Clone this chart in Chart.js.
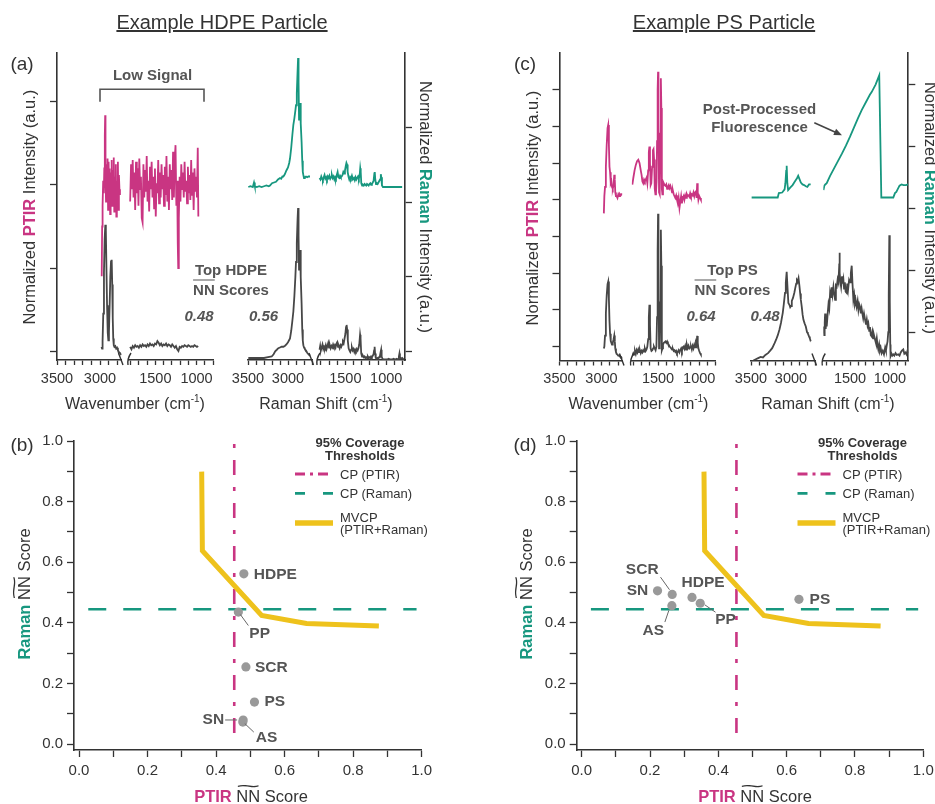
<!DOCTYPE html>
<html>
<head>
<meta charset="utf-8">
<script src="https://cdn.jsdelivr.net/npm/chart.js"></script>
<style>
  body { margin: 0; background: #fff; width: 935px; height: 804px; overflow: hidden; position: relative;
         font-family: "Liberation Sans", Arial, sans-serif; color: #333; }
  canvas { position: absolute; }
  svg { position: absolute; left: 0; top: 0; }
  .t { position: absolute; white-space: nowrap; line-height: 1; transform: translate(-50%, -50%); }
  .t.l { transform: translate(0, -50%); }
  .t.rotL { transform: translate(-50%, -50%) rotate(-90deg); }
  .t.rotR { transform: translate(-50%, -50%) rotate(90deg); }
  .ptir { color: #c93582; font-weight: bold; }
  .raman { color: #17977f; font-weight: bold; }
  .ann { font-weight: bold; color: #555; font-size: 15px; }
  .nn { position: relative; display: inline-block; }
  .nn::before { content: "~"; position: absolute; left: 50%; top: -0.6em; font-weight: normal; font-size: 1.1em;
                transform: translateX(-50%) scaleX(2.3); }
  .ov { text-decoration: overline; }
  sup { font-size: 10px; position: relative; top: -2px; vertical-align: top; }
</style>
</head>
<body>
<script>
// ---------- (a) HDPE particle spectra: [wavenumber, normalized intensity] ----------
const hdpePtirHiParticle = [[2980,0.90],[2975,1.50],[2970,1.75],[2963,2.05],[2956,1.90],[2950,2.20],[2944,2.60],[2940,2.84],[2936,2.10],[2930,1.80],[2924,2.25],[2918,1.95],[2912,2.32],[2906,1.70],[2900,2.28],[2894,1.85],[2888,2.20],[2882,1.65],[2876,2.15],[2870,1.90],[2864,2.30],[2858,1.75],[2852,2.18],[2846,1.95],[2840,2.33],[2834,1.68],[2828,2.10],[2822,1.80],[2816,2.25],[2810,1.62],[2804,2.05],[2798,1.85],[2792,2.28],[2786,1.70],[2780,2.12],[2774,1.95],[2768,1.88]];
const hdpePtirHiLibrary = [[2982,0.05],[2976,0.03],[2970,0.12],[2962,0.45],[2954,0.95],[2946,1.35],[2938,1.52],[2932,1.45],[2926,1.05],[2918,0.55],[2910,0.22],[2903,0.13],[2896,0.22],[2888,0.55],[2880,0.90],[2872,1.08],[2864,1.10],[2858,0.80],[2852,0.40],[2846,0.15],[2840,0.07],[2832,0.05],[2822,0.06],[2812,0.03],[2802,0.04],[2792,0.01],[2782,-0.01],[2772,-0.02],[2762,-0.03],[2752,-0.05]];
const hdpePtirLoParticle = [[1806,1.80],[1795,2.25],[1785,1.95],[1775,2.30],[1765,1.85],[1755,2.15],[1745,1.70],[1735,2.28],[1725,1.90],[1715,2.20],[1705,1.75],[1695,2.32],[1685,1.95],[1675,2.10],[1665,1.60],[1655,1.55],[1645,2.25],[1635,1.85],[1625,2.18],[1615,1.92],[1605,2.35],[1595,1.80],[1585,2.05],[1575,1.68],[1565,2.22],[1555,1.95],[1545,2.28],[1535,1.85],[1525,2.10],[1515,1.72],[1505,2.20],[1495,1.62],[1485,2.02],[1475,1.90],[1465,2.30],[1455,1.78],[1445,2.15],[1435,1.85],[1425,2.25],[1415,1.95],[1405,2.12],[1395,1.75],[1385,2.22],[1375,1.88],[1365,2.35],[1355,1.80],[1345,2.10],[1335,1.70],[1325,2.25],[1315,1.95],[1305,2.18],[1295,1.82],[1285,2.40],[1275,1.85],[1265,2.30],[1255,2.48],[1245,1.75],[1235,2.05],[1228,1.30],[1222,1.00],[1215,1.60],[1205,2.10],[1195,1.80],[1185,2.25],[1175,1.95],[1165,2.15],[1155,1.85],[1145,2.28],[1135,1.92],[1125,2.05],[1115,1.78],[1105,2.22],[1095,1.90],[1085,2.12],[1075,1.82],[1065,2.30],[1055,1.88],[1045,2.15],[1035,1.70],[1025,2.20],[1015,1.92],[1005,2.10],[995,1.85],[985,2.45],[978,1.62]];
const hdpePtirLoLibrary = [[1806,0.05],[1790,0.02],[1775,0.06],[1760,0.04],[1745,0.07],[1730,0.05],[1715,0.06],[1700,0.04],[1685,0.07],[1670,0.05],[1655,0.08],[1640,0.06],[1625,0.07],[1610,0.05],[1595,0.08],[1580,0.06],[1565,0.09],[1550,0.07],[1535,0.08],[1520,0.06],[1505,0.09],[1490,0.08],[1475,0.12],[1460,0.10],[1445,0.07],[1430,0.09],[1415,0.06],[1400,0.08],[1385,0.07],[1370,0.09],[1355,0.06],[1340,0.08],[1325,0.07],[1310,0.05],[1295,0.08],[1280,0.06],[1265,0.04],[1250,0.06],[1235,0.02],[1220,0.00],[1205,0.05],[1190,0.04],[1175,0.06],[1160,0.05],[1145,0.07],[1130,0.06],[1115,0.05],[1100,0.07],[1085,0.06],[1070,0.05],[1055,0.06],[1040,0.05],[1025,0.07],[1010,0.06],[995,0.05],[980,0.06]];
const hdpeRamanHiParticle = [[3496,2.20],[3470,2.21],[3440,2.20],[3425,2.26],[3415,2.21],[3390,2.20],[3360,2.21],[3330,2.20],[3300,2.21],[3270,2.22],[3240,2.21],[3225,2.22],[3200,2.25],[3175,2.26],[3150,2.27],[3125,2.30],[3100,2.32],[3085,2.31],[3070,2.34],[3058,2.34],[3040,2.37],[3020,2.42],[3000,2.46],[2985,2.52],[2975,2.58],[2960,2.72],[2945,2.90],[2933,3.03],[2920,3.12],[2908,3.22],[2900,3.29],[2890,3.45],[2880,3.75],[2874,3.92],[2868,3.60],[2862,3.10],[2856,3.12],[2850,3.32],[2844,3.25],[2838,3.05],[2830,2.80],[2822,2.55],[2815,2.40],[2808,2.36],[2800,2.32],[2790,2.33],[2775,2.34],[2760,2.33],[2745,2.34],[2725,2.34]];
const hdpeRamanHiLibrary = [[3496,-0.08],[3450,-0.08],[3400,-0.08],[3350,-0.08],[3300,-0.08],[3250,-0.07],[3204,-0.06],[3180,-0.03],[3160,0.01],[3140,0.03],[3121,0.05],[3100,0.06],[3080,0.07],[3058,0.07],[3040,0.08],[3020,0.10],[3000,0.13],[2985,0.16],[2975,0.18],[2960,0.28],[2945,0.42],[2933,0.54],[2920,0.75],[2908,1.00],[2900,1.20],[2890,1.45],[2880,1.78],[2874,1.92],[2868,1.55],[2862,1.10],[2856,1.15],[2850,1.36],[2844,1.30],[2838,1.00],[2830,0.65],[2822,0.30],[2815,0.15],[2808,0.09],[2800,0.06],[2790,0.04],[2775,0.02],[2760,-0.01],[2745,-0.03],[2725,-0.05]];
const hdpeRamanLoParticle = [[1816,2.32],[1805,2.30],[1795,2.34],[1785,2.31],[1775,2.29],[1765,2.33],[1755,2.36],[1745,2.31],[1735,2.33],[1725,2.30],[1715,2.34],[1705,2.32],[1695,2.35],[1685,2.31],[1675,2.33],[1665,2.36],[1655,2.32],[1645,2.34],[1635,2.30],[1625,2.33],[1615,2.31],[1605,2.36],[1595,2.40],[1585,2.33],[1575,2.32],[1565,2.35],[1555,2.33],[1545,2.34],[1535,2.36],[1525,2.40],[1515,2.38],[1505,2.42],[1495,2.48],[1487,2.52],[1480,2.50],[1472,2.40],[1462,2.34],[1452,2.30],[1442,2.33],[1432,2.31],[1420,2.35],[1408,2.30],[1395,2.32],[1385,2.29],[1375,2.33],[1365,2.30],[1355,2.32],[1345,2.34],[1335,2.31],[1325,2.36],[1318,2.45],[1312,2.40],[1305,2.25],[1295,2.22],[1285,2.23],[1275,2.22],[1265,2.24],[1255,2.23],[1245,2.22],[1235,2.24],[1225,2.23],[1215,2.22],[1205,2.24],[1195,2.25],[1185,2.23],[1175,2.24],[1165,2.26],[1155,2.28],[1145,2.38],[1140,2.40],[1134,2.30],[1125,2.24],[1115,2.25],[1105,2.24],[1095,2.26],[1085,2.28],[1075,2.30],[1066,2.37],[1060,2.33],[1052,2.22],[1040,2.20],[1020,2.20],[1000,2.20],[980,2.20],[950,2.20],[920,2.20],[890,2.20],[860,2.20],[830,2.20],[805,2.20]];
const hdpeRamanLoLibrary = [[1816,0.03],[1808,0.08],[1800,0.02],[1790,0.06],[1780,0.10],[1770,0.04],[1760,0.07],[1750,0.05],[1740,0.09],[1730,0.04],[1720,0.08],[1710,0.12],[1700,0.06],[1690,0.09],[1680,0.05],[1670,0.08],[1660,0.06],[1650,0.10],[1640,0.07],[1630,0.09],[1620,0.06],[1610,0.11],[1600,0.13],[1590,0.07],[1580,0.08],[1570,0.05],[1560,0.09],[1550,0.07],[1540,0.10],[1530,0.14],[1520,0.12],[1510,0.18],[1500,0.24],[1492,0.33],[1485,0.36],[1478,0.30],[1470,0.15],[1460,0.05],[1450,0.02],[1440,0.00],[1430,0.03],[1420,0.06],[1410,0.02],[1400,0.04],[1390,0.00],[1380,0.03],[1370,0.01],[1360,0.04],[1350,0.02],[1340,0.05],[1330,0.10],[1320,0.23],[1314,0.18],[1306,-0.02],[1296,-0.06],[1285,-0.05],[1275,-0.07],[1265,-0.06],[1255,-0.08],[1245,-0.07],[1235,-0.08],[1225,-0.06],[1215,-0.08],[1205,-0.07],[1195,-0.08],[1185,-0.06],[1175,-0.07],[1165,-0.05],[1155,-0.03],[1148,0.02],[1142,0.07],[1136,-0.02],[1128,-0.08],[1118,-0.09],[1108,-0.08],[1098,-0.09],[1088,-0.07],[1078,-0.06],[1068,0.00],[1062,0.03],[1056,-0.06],[1046,-0.09],[1030,-0.10],[1010,-0.10],[990,-0.10],[970,-0.09],[950,-0.10],[930,-0.10],[910,-0.09],[890,-0.10],[870,-0.09],[855,-0.10],[845,-0.06],[838,-0.02],[832,-0.07],[820,-0.09],[805,-0.08],[795,-0.09]];

// ---------- (c) PS particle spectra ----------
const psPtirHiParticle = [[2972,3.63],[2966,4.10],[2958,4.35],[2948,4.90],[2938,5.50],[2928,5.95],[2920,6.04],[2912,5.50],[2905,4.90],[2898,4.75],[2890,4.45],[2882,4.50],[2875,4.35],[2866,4.30],[2856,4.40],[2848,4.68],[2842,4.55],[2836,4.20],[2828,4.10],[2820,4.10],[2810,4.05],[2800,4.15],[2790,4.10],[2780,4.15],[2770,4.12],[2760,4.15],[2752,4.15]];
const psPtirHiLibrary = [[2972,-0.05],[2966,0.00],[2958,0.30],[2948,0.90],[2938,1.40],[2928,1.70],[2920,1.77],[2912,1.30],[2905,0.70],[2898,0.35],[2890,0.15],[2882,0.10],[2875,0.05],[2866,0.10],[2856,0.20],[2848,0.30],[2842,0.15],[2836,-0.05],[2828,-0.15],[2820,-0.20],[2810,-0.22],[2800,-0.25],[2790,-0.24],[2780,-0.27],[2770,-0.28],[2760,-0.30],[2752,-0.33]];
const psPtirLoParticle = [[1812,4.41],[1800,4.60],[1785,4.80],[1770,4.95],[1755,5.05],[1740,5.09],[1725,5.00],[1710,4.80],[1700,4.68],[1690,4.50],[1680,4.45],[1670,4.55],[1660,4.50],[1650,4.55],[1640,4.60],[1630,4.45],[1620,4.80],[1612,5.30],[1605,5.45],[1598,5.00],[1590,4.40],[1582,4.45],[1572,4.90],[1562,5.35],[1555,5.38],[1548,5.10],[1540,4.30],[1532,4.15],[1525,4.20],[1518,4.50],[1512,5.60],[1505,7.00],[1500,7.49],[1495,6.20],[1488,4.20],[1480,4.15],[1472,5.80],[1466,7.31],[1460,6.50],[1454,4.30],[1447,4.15],[1440,4.50],[1430,4.45],[1420,4.40],[1410,4.38],[1400,4.42],[1390,4.30],[1380,4.35],[1370,4.40],[1360,4.32],[1350,4.38],[1340,4.30],[1330,4.20],[1320,4.25],[1310,4.15],[1300,4.10],[1290,4.05],[1280,4.12],[1270,4.00],[1260,3.90],[1250,4.05],[1240,3.78],[1230,3.95],[1220,4.10],[1210,3.90],[1200,4.05],[1190,4.10],[1180,4.00],[1170,4.12],[1160,4.05],[1150,4.15],[1140,4.10],[1130,4.12],[1120,4.08],[1110,4.18],[1100,4.10],[1090,4.15],[1080,4.12],[1070,4.20],[1060,4.10],[1050,4.20],[1040,4.25],[1032,4.05],[1025,4.45],[1018,4.20],[1010,4.00],[1000,4.10],[990,4.05],[980,4.00]];
const psPtirLoLibrary = [[1812,-0.25],[1800,-0.18],[1790,-0.22],[1780,-0.12],[1770,-0.20],[1760,-0.10],[1750,-0.16],[1740,-0.08],[1730,-0.15],[1720,-0.10],[1710,-0.18],[1700,-0.12],[1690,-0.16],[1680,-0.10],[1670,-0.14],[1660,-0.05],[1650,-0.12],[1640,-0.08],[1630,0.00],[1620,0.20],[1612,0.80],[1605,1.14],[1598,0.60],[1590,-0.05],[1580,-0.12],[1570,-0.10],[1560,-0.05],[1550,0.00],[1540,-0.05],[1530,-0.10],[1520,0.00],[1512,0.80],[1505,2.60],[1500,3.62],[1495,2.40],[1488,-0.05],[1480,-0.02],[1472,1.20],[1466,3.18],[1460,2.20],[1454,-0.10],[1447,-0.05],[1440,0.05],[1430,0.10],[1420,0.12],[1410,0.14],[1400,0.10],[1390,0.14],[1380,0.08],[1370,0.05],[1360,0.00],[1350,-0.02],[1340,-0.05],[1330,-0.08],[1320,-0.06],[1310,-0.12],[1300,-0.10],[1290,-0.15],[1280,-0.12],[1270,-0.18],[1260,-0.14],[1250,-0.10],[1240,-0.16],[1230,-0.10],[1220,-0.05],[1210,-0.12],[1200,-0.02],[1190,0.00],[1180,-0.06],[1170,0.02],[1160,-0.08],[1150,0.05],[1140,-0.04],[1130,0.02],[1120,-0.05],[1110,-0.02],[1100,0.00],[1090,-0.08],[1080,0.02],[1070,-0.05],[1060,0.05],[1050,-0.02],[1040,0.10],[1032,0.05],[1025,0.29],[1018,0.10],[1010,-0.05],[1000,-0.12],[990,-0.18],[980,-0.22]];
const psRamanHiParticle = [[3492,2.17],[3166,2.17],[3152,2.24],[3110,2.25],[3080,2.30],[3070,2.40],[3060,2.60],[3054,2.68],[3046,2.40],[3036,2.29],[3010,2.33],[2980,2.37],[2950,2.43],[2925,2.48],[2910,2.52],[2895,2.47],[2877,2.41],[2856,2.38],[2836,2.37],[2815,2.35],[2796,2.34],[2775,2.38],[2754,2.38]];
const psRamanHiLibrary = [[3492,-0.47],[3470,-0.46],[3440,-0.44],[3410,-0.42],[3380,-0.40],[3350,-0.41],[3320,-0.37],[3287,-0.34],[3260,-0.30],[3235,-0.26],[3205,-0.18],[3185,-0.12],[3165,-0.05],[3144,0.04],[3125,0.15],[3103,0.31],[3090,0.45],[3075,0.63],[3065,0.80],[3054,0.97],[3045,0.75],[3033,0.47],[3020,0.44],[3010,0.40],[3000,0.42],[2990,0.50],[2975,0.55],[2959,0.63],[2945,0.72],[2935,0.78],[2926,0.84],[2916,0.82],[2906,0.87],[2895,0.75],[2885,0.62],[2877,0.52],[2865,0.40],[2855,0.28],[2845,0.20],[2830,0.14],[2815,0.09],[2800,0.00],[2790,-0.02],[2775,-0.07],[2765,-0.10],[2754,-0.15]];
const psRamanLoParticle = [[1833,2.29],[1822,2.36],[1810,2.38],[1792,2.40],[1750,2.52],[1700,2.64],[1650,2.76],[1600,2.88],[1550,3.01],[1500,3.15],[1450,3.30],[1400,3.45],[1354,3.58],[1300,3.71],[1250,3.83],[1229,3.87],[1180,3.99],[1134,4.14],[1108,2.17],[958,2.17],[937,2.24],[920,2.26],[904,2.30],[880,2.36],[854,2.38],[830,2.37],[800,2.37],[772,2.38]];
const psRamanLoLibrary = [[1833,0.09],[1825,-0.05],[1818,0.15],[1812,0.30],[1805,0.05],[1798,0.20],[1792,0.09],[1780,0.30],[1770,0.45],[1760,0.38],[1750,0.63],[1740,0.55],[1730,0.72],[1720,0.60],[1708,0.73],[1698,0.62],[1687,0.52],[1677,0.75],[1667,0.73],[1655,0.85],[1645,0.80],[1638,1.00],[1633,1.28],[1627,0.95],[1620,0.80],[1612,0.73],[1600,0.90],[1590,0.78],[1583,0.84],[1575,0.70],[1565,0.80],[1555,0.65],[1542,0.63],[1535,0.78],[1525,0.68],[1512,0.84],[1500,0.80],[1490,0.95],[1479,1.07],[1470,0.80],[1458,0.52],[1448,0.60],[1438,0.45],[1428,0.50],[1417,0.41],[1405,0.50],[1395,0.36],[1385,0.45],[1375,0.41],[1365,0.30],[1355,0.38],[1346,0.30],[1335,0.22],[1325,0.30],[1312,0.20],[1300,0.12],[1290,0.20],[1280,0.10],[1271,0.14],[1260,0.02],[1250,0.08],[1240,-0.05],[1229,-0.07],[1220,0.00],[1210,-0.10],[1200,-0.05],[1187,-0.12],[1175,-0.18],[1165,-0.10],[1155,-0.22],[1146,-0.28],[1135,-0.20],[1125,-0.30],[1115,-0.26],[1104,-0.34],[1090,-0.30],[1075,-0.36],[1060,-0.25],[1050,-0.30],[1042,-0.23],[1030,-0.15],[1021,0.00],[1015,0.60],[1008,1.56],[1002,0.50],[996,-0.20],[992,-0.39],[980,-0.35],[970,-0.38],[958,-0.36],[945,-0.38],[930,-0.34],[915,-0.37],[896,-0.36],[880,-0.38],[865,-0.33],[850,-0.30],[833,-0.28],[820,-0.35],[805,-0.33],[792,-0.36],[780,-0.30],[772,-0.34]];

// ---------- axis ticks ----------
const highWnTicks = [3500, 3400, 3300, 3200, 3100, 3000, 2900, 2800, 2700];
const lowWnTicks = [1800, 1700, 1600, 1500, 1400, 1300, 1200, 1100, 1000, 900, 800];
const scoreTicks = [0, 0.1, 0.2, 0.3, 0.4, 0.5, 0.6, 0.7, 0.8, 0.9, 1.0];

// ---------- (b)/(d) NN scores ----------
const candidates = ['HDPE', 'PP', 'SCR', 'PS', 'SN', 'AS'];
const hdpePtirScore  = [0.481, 0.465, 0.487, 0.512, 0.479, 0.478];
const hdpeRamanScore = [0.562, 0.436, 0.255, 0.139, 0.080, 0.073];
const psPtirScore    = [0.323, 0.347, 0.265, 0.636, 0.222, 0.264];
const psRamanScore   = [0.484, 0.465, 0.494, 0.478, 0.506, 0.457];
const mvcpPtir  = [0.358, 0.360, 0.533, 0.664, 0.875];
const mvcpRaman = [0.899, 0.638, 0.425, 0.398, 0.390];
const cpPtir = 0.453, cpPtirSpan = [0.99, 0.0];
const cpRaman = 0.445, cpRamanSpan = [0.027, 0.985];

// ---------- styling ----------
const PTIR_C = '#c93582', RAMAN_C = '#17977f', LIB_C = '#474747', MVCP_C = '#eec21c', AXIS_C = '#333';
const FONT = '"Liberation Sans", Arial, sans-serif';
Chart.defaults.font.family = FONT;
Chart.defaults.color = '#333';
Chart.defaults.animation = false;
Chart.defaults.plugins.legend.display = false;
Chart.defaults.plugins.tooltip.enabled = false;

const breakMarks = {
  id: 'breakMarks',
  afterDraw(chart, args, o) {
    const { ctx, chartArea: a } = chart;
    ctx.save();
    ctx.strokeStyle = AXIS_C; ctx.lineWidth = 1.4;
    if (o.right) { ctx.beginPath(); ctx.moveTo(a.right - 3, a.bottom - 7); ctx.lineTo(a.right + 1.5, a.bottom + 5); ctx.stroke(); }
    if (o.left)  { ctx.beginPath(); ctx.moveTo(a.left + 2, a.bottom - 7); ctx.quadraticCurveTo(a.left - 2, a.bottom - 1, a.left - 1, a.bottom + 5); ctx.stroke(); }
    ctx.restore();
  }
};

const pointNames = {
  id: 'pointNames',
  afterDatasetsDraw(chart, args, o) {
    const meta = chart.getDatasetMeta(0);
    const ctx = chart.ctx;
    ctx.save();
    ctx.font = 'bold 15.5px ' + FONT;
    ctx.fillStyle = '#555'; ctx.strokeStyle = '#666'; ctx.lineWidth = 1;
    ctx.textBaseline = 'middle';
    o.names.forEach((name, i) => {
      const p = meta.data[i], s = o.place[name];
      ctx.textAlign = s.align || 'left';
      ctx.fillText(name, p.x + s.dx, p.y + s.dy);
      if (s.lead) {
        ctx.beginPath();
        ctx.moveTo(p.x + s.lead[0], p.y + s.lead[1]);
        ctx.lineTo(p.x + s.lead[2], p.y + s.lead[3]);
        ctx.stroke();
      }
    });
    ctx.restore();
  }
};

function addCanvas(l, t, w, h) {
  const cv = document.createElement('canvas');
  cv.width = w; cv.height = h;
  cv.style.left = l + 'px'; cv.style.top = t + 'px';
  cv.style.width = w + 'px'; cv.style.height = h + 'px';
  document.body.appendChild(cv);
  return cv;
}

function spectrumSegment(o) {
  const a = o.area, xh = 30;
  const yl = o.yPos === 'left' ? 7 : 0, yr = o.yPos === 'right' ? 7 : 0;
  const ml = 26, mr = 26, mt = 4, mb = xh + 4;
  const cl = Math.floor(a.l) - ml, ct = Math.floor(a.t) - mt;
  const cw = Math.ceil(a.r) + mr - cl, ch = Math.ceil(a.b) + mb - ct;
  const yScale = {
    type: 'linear', display: !!o.yPos, position: o.yPos || 'left',
    min: o.yRange[0], max: o.yRange[1], bounds: 'data',
    afterBuildTicks: s => { s.ticks = o.yTicks.map(v => ({ value: v })); },
    ticks: { display: false },
    grid: { drawOnChartArea: false, tickLength: 7, tickColor: AXIS_C, tickWidth: 1.3 },
    border: { color: AXIS_C, width: 1.6 }
  };
  if (o.yPos) yScale.afterFit = s => { s.width = 7; };
  new Chart(addCanvas(cl, ct, cw, ch), {
    type: 'line',
    data: {
      datasets: o.series.map(s => ({
        data: s.data.map(([x, y]) => ({ x, y })),
        borderColor: s.color, borderWidth: 1.8, pointRadius: 0, tension: 0, fill: false
      }))
    },
    options: {
      responsive: false, devicePixelRatio: 1,
      layout: { padding: { left: a.l - cl - yl, right: cl + cw - a.r - yr, top: a.t - ct, bottom: ct + ch - a.b - xh } },
      scales: {
        x: {
          type: 'linear', reverse: true, min: o.xRange[1], max: o.xRange[0], bounds: 'data',
          afterBuildTicks: s => { s.ticks = o.xTicks.filter(v => v <= o.xRange[0] && v >= o.xRange[1]).map(v => ({ value: v })); },
          afterFit: s => { s.height = xh; },
          ticks: { autoSkip: false, maxRotation: 0, minRotation: 0, padding: 5, color: '#333',
                   font: { size: 14.5 }, callback: v => (v % 500 === 0 ? String(v) : '') },
          grid: { drawOnChartArea: false, tickLength: 5, tickColor: AXIS_C, tickWidth: 1.3 },
          border: { color: AXIS_C, width: 1.6 }
        },
        y: yScale
      },
      plugins: { breakMarks: o.breaks }
    },
    plugins: [breakMarks]
  });
}

function scorePanel(o) {
  const a = o.area, yw = 40, xh = 32;
  const ml = yw + 6, mr = 22, mt = 12, mb = xh + 4;
  const cl = Math.floor(a.l) - ml, ct = Math.floor(a.t) - mt;
  const cw = Math.ceil(a.r) + mr - cl, ch = Math.ceil(a.b) + mb - ct;
  const axis = (extra) => Object.assign({
    type: 'linear', max: 1.0, bounds: 'data',
    afterBuildTicks: s => { s.ticks = scoreTicks.map(v => ({ value: v })); },
    ticks: { autoSkip: false, maxRotation: 0, font: { size: 15 }, color: '#333', padding: 4,
             callback: (v, i) => (i % 2 === 0 ? v.toFixed(1) : '') },
    grid: { drawOnChartArea: false, tickLength: 7, tickColor: AXIS_C, tickWidth: 1.3 },
    border: { color: AXIS_C, width: 1.6 }
  }, extra);
  new Chart(addCanvas(cl, ct, cw, ch), {
    type: 'scatter',
    data: {
      datasets: [
        { data: o.ptir.map((x, i) => ({ x, y: o.raman[i] })), pointRadius: 4.6,
          pointBackgroundColor: '#999', pointBorderWidth: 0, order: 0 },
        { data: mvcpPtir.map((x, i) => ({ x, y: mvcpRaman[i] })), showLine: true, pointRadius: 0,
          borderColor: MVCP_C, borderWidth: 5, borderJoinStyle: 'miter', borderCapStyle: 'butt', order: 1 },
        { data: cpPtirSpan.map(y => ({ x: cpPtir, y })), showLine: true, pointRadius: 0,
          borderColor: PTIR_C, borderWidth: 2.6, borderDash: [4, 12, 15, 12], order: 2 },
        { data: cpRamanSpan.map(x => ({ x, y: cpRaman })), showLine: true, pointRadius: 0,
          borderColor: RAMAN_C, borderWidth: 2.6, borderDash: [18, 17], order: 3 }
      ]
    },
    options: {
      responsive: false, devicePixelRatio: 1,
      layout: { padding: { left: a.l - cl - yw, right: cl + cw - a.r, top: a.t - ct, bottom: ct + ch - a.b - xh } },
      scales: {
        x: axis({ min: -0.0146, ticks: { autoSkip: false, maxRotation: 0, minRotation: 0, font: { size: 15 }, color: '#333', padding: 5,
                  callback: (v, i) => (i % 2 === 0 ? v.toFixed(1) : '') }, afterFit: s => { s.height = xh; } }),
        y: axis({ min: -0.019, afterFit: s => { s.width = yw; } })
      },
      plugins: { pointNames: { names: candidates, place: o.place } }
    },
    plugins: [pointNames]
  });
}

// ---------- panel (a) ----------
spectrumSegment({ area: { l: 57, t: 53, r: 121.5, b: 360 }, xRange: [3500, 2750], xTicks: highWnTicks,
  yRange: [-0.108, 3.59], yTicks: [0, 1, 2, 3], yPos: 'left', breaks: { right: true },
  series: [{ data: hdpePtirHiParticle, color: PTIR_C }, { data: hdpePtirHiLibrary, color: LIB_C }] });
spectrumSegment({ area: { l: 129, t: 53, r: 213, b: 360 }, xRange: [1820, 800], xTicks: lowWnTicks,
  yRange: [-0.108, 3.59], yTicks: [0, 1, 2, 3], yPos: null, breaks: { left: true },
  series: [{ data: hdpePtirLoParticle, color: PTIR_C }, { data: hdpePtirLoLibrary, color: LIB_C }] });
spectrumSegment({ area: { l: 248, t: 53, r: 312, b: 360 }, xRange: [3500, 2700], xTicks: highWnTicks,
  yRange: [-0.107, 3.987], yTicks: [0, 1, 2, 3], yPos: null, breaks: { right: true },
  series: [{ data: hdpeRamanHiParticle, color: RAMAN_C }, { data: hdpeRamanHiLibrary, color: LIB_C }] });
spectrumSegment({ area: { l: 318, t: 53, r: 405, b: 360 }, xRange: [1835, 770], xTicks: lowWnTicks,
  yRange: [-0.107, 3.987], yTicks: [0, 1, 2, 3], yPos: 'right', breaks: { left: true },
  series: [{ data: hdpeRamanLoParticle, color: RAMAN_C }, { data: hdpeRamanLoLibrary, color: LIB_C }] });

// ---------- panel (c) ----------
spectrumSegment({ area: { l: 559.5, t: 53, r: 622.5, b: 360.5 }, xRange: [3500, 2750], xTicks: highWnTicks,
  yRange: [-0.38, 8.0], yTicks: [0, 1, 2, 3, 4, 5, 6, 7], yPos: 'left', breaks: { right: true },
  series: [{ data: psPtirHiParticle, color: PTIR_C }, { data: psPtirHiLibrary, color: LIB_C }] });
spectrumSegment({ area: { l: 631.7, t: 53, r: 715.7, b: 360.5 }, xRange: [1820, 800], xTicks: lowWnTicks,
  yRange: [-0.38, 8.0], yTicks: [0, 1, 2, 3, 4, 5, 6, 7], yPos: null, breaks: { left: true },
  series: [{ data: psPtirLoParticle, color: PTIR_C }, { data: psPtirLoLibrary, color: LIB_C }] });
spectrumSegment({ area: { l: 751, t: 53, r: 815, b: 360.5 }, xRange: [3500, 2700], xTicks: highWnTicks,
  yRange: [-0.459, 4.5], yTicks: [0, 1, 2, 3, 4], yPos: null, breaks: { right: true },
  series: [{ data: psRamanHiParticle, color: RAMAN_C }, { data: psRamanHiLibrary, color: LIB_C }] });
spectrumSegment({ area: { l: 823.3, t: 53, r: 908.3, b: 360.5 }, xRange: [1835, 770], xTicks: lowWnTicks,
  yRange: [-0.459, 4.5], yTicks: [0, 1, 2, 3, 4], yPos: 'right', breaks: { left: true },
  series: [{ data: psRamanLoParticle, color: RAMAN_C }, { data: psRamanLoLibrary, color: LIB_C }] });

// ---------- panels (b) and (d) ----------
scorePanel({ area: { l: 74, t: 440, r: 421.7, b: 750 }, ptir: hdpePtirScore, raman: hdpeRamanScore,
  place: {
    HDPE: { dx: 10, dy: 1 },
    PP:   { dx: 11, dy: 21.5, lead: [2, 2.5, 10, 13.5] },
    SCR:  { dx: 9, dy: 0.6 },
    PS:   { dx: 10, dy: 0 },
    SN:   { dx: -19, dy: 0, align: 'right', lead: [-18, 0, -6, 0] },
    AS:   { dx: 13, dy: 15.5, lead: [2, 1.5, 11, 10] }
  } });
scorePanel({ area: { l: 576.7, t: 440, r: 923.3, b: 750 }, ptir: psPtirScore, raman: psRamanScore,
  place: {
    HDPE: { dx: 11, dy: -14.3, align: 'center' },
    PP:   { dx: 25.3, dy: 16.3, align: 'center', lead: [4.6, 1.6, 15.3, 9] },
    SCR:  { dx: -30, dy: -24.7, align: 'center', lead: [-11.7, -17.3, -2.7, -4.7] },
    PS:   { dx: 10.6, dy: 0.3 },
    SN:   { dx: -9.3, dy: 0, align: 'right' },
    AS:   { dx: -18.6, dy: 25.4, align: 'center', lead: [-3, 4.7, -7, 16.4] }
  } });

// ---------- annotations (text, bracket, arrow, legends) ----------
const NS = 'http://www.w3.org/2000/svg';
const svg = document.createElementNS(NS, 'svg');
svg.setAttribute('width', 935); svg.setAttribute('height', 804);
document.body.appendChild(svg);
function shape(tag, attrs) {
  const el = document.createElementNS(NS, tag);
  for (const k in attrs) el.setAttribute(k, attrs[k]);
  svg.appendChild(el);
}
function put(html, x, y, cls, css) {
  const d = document.createElement('div');
  d.className = 't ' + (cls || '');
  d.innerHTML = html;
  d.style.left = x + 'px'; d.style.top = y + 'px';
  if (css) d.style.cssText += css;
  document.body.appendChild(d);
}

put('Example HDPE Particle', 222, 22, '', 'font-size:20px;text-decoration:underline;color:#333');
put('Example PS Particle', 724, 22, '', 'font-size:20px;text-decoration:underline;color:#333');
put('(a)', 22, 63, '', 'font-size:19px'); put('(c)', 525, 63, '', 'font-size:19px');
put('(b)', 22, 444, '', 'font-size:19px'); put('(d)', 525, 444, '', 'font-size:19px');

const yPtir = 'Normalized <span class="ptir">PTIR</span> Intensity (a.u.)';
const yRaman = 'Normalized <span class="raman">Raman</span> Intensity (a.u.)';
put(yPtir, 28.5, 207, 'rotL', 'font-size:16.5px'); put(yRaman, 426, 207, 'rotR', 'font-size:16.5px');
put(yPtir, 532, 208, 'rotL', 'font-size:16.5px'); put(yRaman, 931, 208, 'rotR', 'font-size:16.5px');
const xWn = 'Wavenumber (cm<sup>-1</sup>)', xRs = 'Raman Shift (cm<sup>-1</sup>)';
put(xWn, 135, 404, '', 'font-size:16px'); put(xRs, 326, 404, '', 'font-size:16px');
put(xWn, 638.5, 404, '', 'font-size:16px'); put(xRs, 828, 404, '', 'font-size:16px');

const xScore = '<span class="ptir">PTIR</span> <span class="nn">NN</span> Score';
const yScore = '<span class="raman">Raman</span> <span class="nn">NN</span> Score';
put(xScore, 251, 796, '', 'font-size:16.5px'); put(xScore, 755, 796, '', 'font-size:16.5px');
put(yScore, 23.5, 594, 'rotL', 'font-size:16.5px'); put(yScore, 525.5, 594, 'rotL', 'font-size:16.5px');

// panel (a) notes
put('Low Signal', 152.5, 74, 'ann');
shape('path', { d: 'M100 101.7V89.3H204V101.7', fill: 'none', stroke: '#555', 'stroke-width': 1.6 });
put('Top HDPE', 231, 269, 'ann'); put('<span class="ov">NN</span> Scores', 231, 289, 'ann');
put('0.48', 199, 315, 'ann', 'font-style:italic'); put('0.56', 263.5, 315, 'ann', 'font-style:italic');
// panel (c) notes
put('Top PS', 732.5, 269, 'ann'); put('<span class="ov">NN</span> Scores', 732.5, 289, 'ann');
put('0.64', 701, 315, 'ann', 'font-style:italic'); put('0.48', 765, 315, 'ann', 'font-style:italic');
put('Post-Processed', 759.5, 107.5, 'ann'); put('Fluorescence', 759.5, 126, 'ann');
shape('line', { x1: 814.3, y1: 122.7, x2: 836, y2: 132.4, stroke: '#444', 'stroke-width': 1.6 });
shape('polygon', { points: '842,135.2 833.3,135.1 836.1,128.7', fill: '#444' });

// legends of (b) and (d)
[0, 502.5].forEach(dx => {
  put('95% Coverage', 360 + dx, 441.7, '', 'font-size:13px;font-weight:bold;color:#333');
  put('Thresholds', 360 + dx, 455, '', 'font-size:13px;font-weight:bold;color:#333');
  shape('line', { x1: 295 + dx, y1: 474, x2: 333 + dx, y2: 474, stroke: PTIR_C, 'stroke-width': 2.8, 'stroke-dasharray': '10 5 3 5' });
  shape('line', { x1: 295 + dx, y1: 493.3, x2: 333 + dx, y2: 493.3, stroke: RAMAN_C, 'stroke-width': 2.8, 'stroke-dasharray': '10 18' });
  shape('line', { x1: 295 + dx, y1: 523, x2: 333 + dx, y2: 523, stroke: MVCP_C, 'stroke-width': 5.5 });
  put('CP (PTIR)', 340 + dx, 474, 'l', 'font-size:13px');
  put('CP (Raman)', 340 + dx, 493.3, 'l', 'font-size:13px');
  put('MVCP', 340 + dx, 516.5, 'l', 'font-size:13px');
  put('(PTIR+Raman)', 340 + dx, 528.8, 'l', 'font-size:13px');
});
</script>
</body>
</html>
